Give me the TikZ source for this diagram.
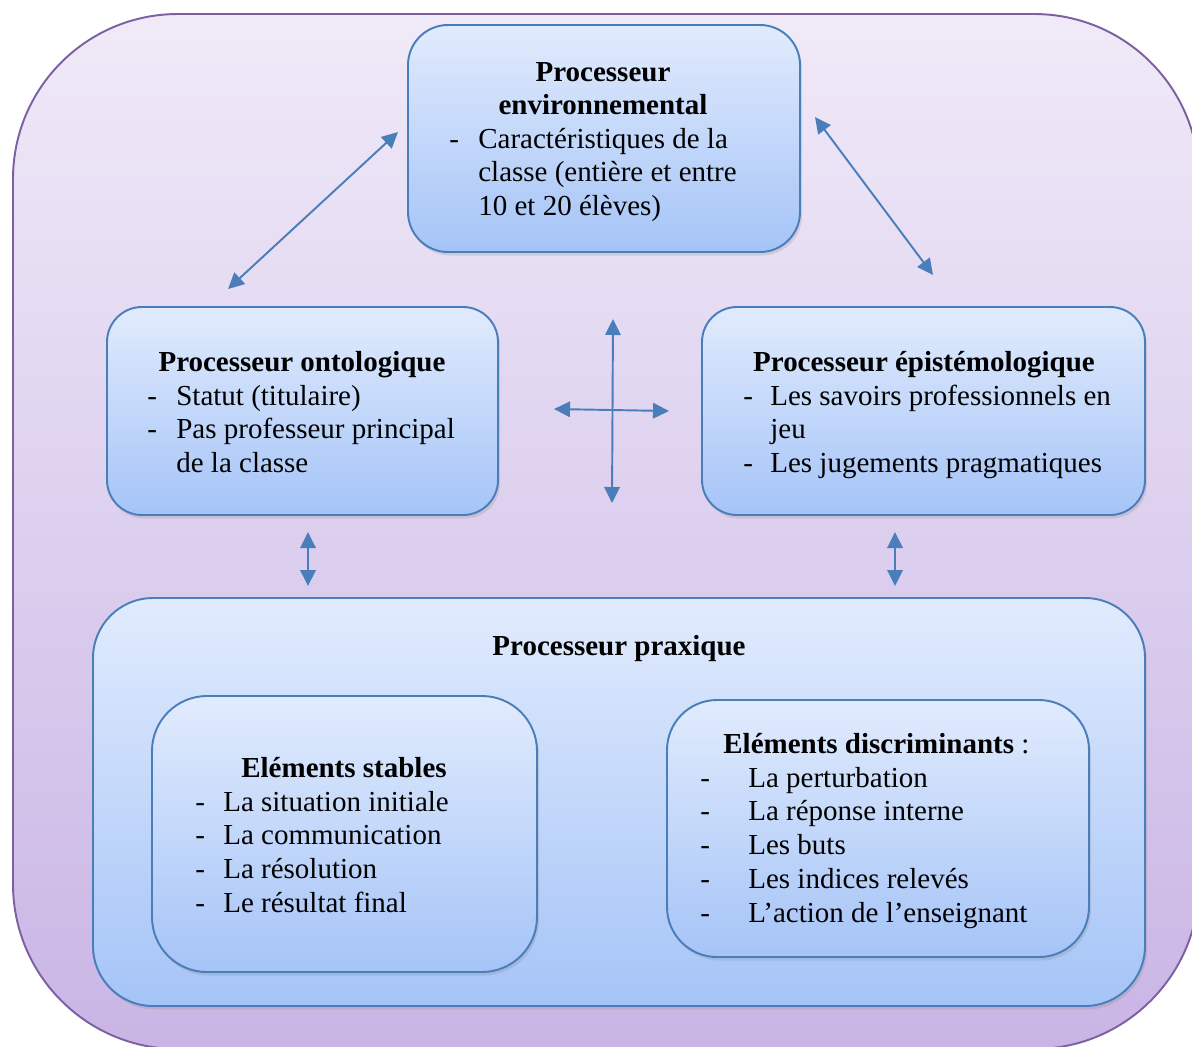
\documentclass[tikz,border=0pt]{standalone}
\usepackage{fontspec}
\setmainfont{Liberation Serif}
\usepackage{xcolor}
\usetikzlibrary{arrows.meta,positioning,fit,shadows,calc}
\definecolor{framepurple}{HTML}{7D5FA3}
\definecolor{frametop}{HTML}{F0EAF8}
\definecolor{framebot}{HTML}{C9B5E5}
\definecolor{boxblue}{HTML}{4A7EBB}
\definecolor{boxtop}{HTML}{E1EBFD}
\definecolor{boxbot}{HTML}{A5C4F7}
\newcommand{\procitems}[2]{\begin{tabular}[t]{@{}p{#1}@{}l@{}}#2\end{tabular}}

\begin{document}
\begin{tikzpicture}[
  x=0.02cm,y=-0.02cm,
  frame/.style={draw=framepurple,line width=1.1pt,top color=frametop,bottom color=framebot,
                rounded corners=3.3cm,inner sep=0pt},
  proc/.style={draw=boxblue,line width=1.1pt,top color=boxtop,bottom color=boxbot,
               rounded corners=0.8cm,inner sep=0pt,
               drop shadow={opacity=0.22,shadow xshift=0.4mm,shadow yshift=-0.7mm}},
  txt/.style={inner sep=0pt,font=\fontsize{16.5}{19.3}\selectfont},
  ttl/.style={txt,anchor=base,font=\fontsize{16.5}{19.3}\selectfont\bfseries},
  lst/.style={txt,anchor=base west},
  link/.style={draw=boxblue,line width=1.1pt,
               >={Triangle[length=3.2mm,width=3.1mm]},<->}
]
  \useasboundingbox (0,0) rectangle (1192,1046);
  \clip (0,0) rectangle (1192,1046);
  \node[frame,fit={(13,14) (1199,1049)}] (cadre) {};

  % processeurs
  \node[proc,fit={(408,25) (800,252)}] (env) {};
  \node[proc,rounded corners=0.7cm,fit={(107,307) (498,515)}] (onto) {};
  \node[proc,rounded corners=0.7cm,fit={(702,307) (1145,515)}] (epi) {};
  \node[proc,rounded corners=1.2cm,fit={(93,598) (1145,1006)}] (prax) {};
  \node[proc,rounded corners=1.1cm,fit={(152,696) (537,972)}] (stab) {};
  \node[proc,rounded corners=1.0cm,fit={(667,700) (1089,957)}] (discr) {};

  % textes
  \node[ttl] (envTitle) at (603,81) {\begin{tabular}[t]{@{}c@{}}Processeur\\environnemental\end{tabular}};
  \node[lst] (envList) at (449,148) {\procitems{0.58cm}{- & Caractéristiques de la\\
    & classe (entière et entre\\ & 10 et 20 élèves)}};
  \node[ttl] (ontoTitle) at (302,371) {Processeur ontologique};
  \node[lst] (ontoList) at (147,405) {\procitems{0.58cm}{- & Statut (titulaire)\\
    - & Pas professeur principal\\ & de la classe}};
  \node[ttl] (epiTitle) at (924,371) {Processeur épistémologique};
  \node[lst] (epiList) at (743,405) {\procitems{0.54cm}{- & Les savoirs professionnels en\\
    & jeu\\ - & Les jugements pragmatiques}};
  \node[ttl] (praxTitle) at (619,655) {Processeur praxique};
  \node[ttl] (stabTitle) at (344,777) {Eléments stables};
  \node[lst] (stabList) at (195,811) {\procitems{0.56cm}{- & La situation initiale\\
    - & La communication\\ - & La résolution\\ - & Le résultat final}};
  \node[txt,anchor=base west] (discrTitle) at (723,753) {\textbf{Eléments discriminants} :};
  \node[lst] (discrList) at (700,787) {\procitems{0.96cm}{- & La perturbation\\
    - & La réponse interne\\ - & Les buts\\ - & Les indices relevés\\
    - & L’action de l’enseignant}};

  % liaisons
  \coordinate (ontoUp) at (228,289);
  \coordinate (envLeft) at (398,132);
  \coordinate (envRight) at (815,117);
  \coordinate (epiUp) at (933,275);
  \coordinate (crossN) at (613,319);
  \coordinate (crossS) at (612,503);
  \coordinate (crossW) at (554,409);
  \coordinate (crossE) at (669,411);
  \coordinate (ontoDown) at (308,532);
  \coordinate (praxLeft) at (308,586);
  \coordinate (epiDown) at (895,532);
  \coordinate (praxRight) at (895,586);
  \draw[link] (ontoUp) -- (envLeft);
  \draw[link] (envRight) -- (epiUp);
  \draw[link] (crossN) -- (crossS);
  \draw[link] (crossW) -- (crossE);
  \draw[link] (ontoDown) -- (praxLeft);
  \draw[link] (epiDown) -- (praxRight);
\end{tikzpicture}
\end{document}
